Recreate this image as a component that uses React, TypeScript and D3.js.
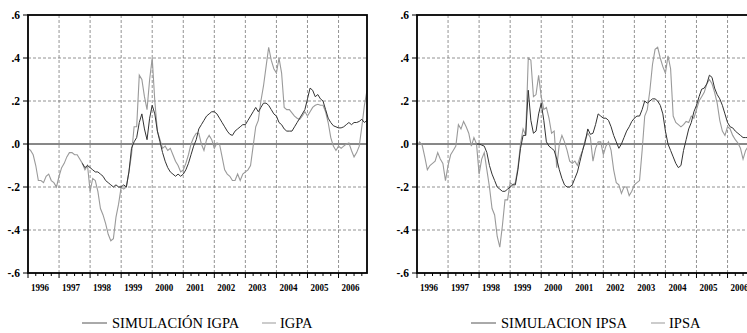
import React from "react";
import * as d3 from "d3";

// monthly observations, Jan 1996 .. Dec 2006
const YEARS = ["1996", "1997", "1998", "1999", "2000", "2001", "2002", "2003", "2004", "2005", "2006"];
const Y_TICKS = [0.6, 0.4, 0.2, 0.0, -0.2, -0.4, -0.6];

const IGPA = [
  -0.02, -0.03, -0.05, -0.1, -0.17, -0.17, -0.18, -0.15, -0.14, -0.17, -0.18, -0.2,
  -0.15, -0.11, -0.09, -0.06, -0.04, -0.04, -0.05, -0.05, -0.07, -0.09, -0.12, -0.1,
  -0.22, -0.16, -0.17, -0.22, -0.3, -0.33, -0.37, -0.42, -0.45, -0.44, -0.34, -0.28,
  -0.2, -0.21, -0.2, -0.13, -0.05, 0.08, 0.08, 0.32, 0.3, 0.22, 0.16, 0.3,
  0.4, 0.2, 0.06, 0.02, -0.02, -0.01, -0.03, -0.02, -0.05, -0.08, -0.1, -0.13,
  -0.12, -0.09, -0.05, 0.0, 0.03, 0.05, 0.05, 0.0, -0.03, 0.02, 0.04, 0.02,
  -0.02, 0.005, 0.0, -0.06, -0.12, -0.14, -0.15, -0.17, -0.17, -0.14, -0.17, -0.14,
  -0.13, -0.12, -0.1, -0.01, 0.08, 0.11, 0.2, 0.27, 0.36, 0.45, 0.39, 0.35,
  0.33, 0.4, 0.33, 0.17, 0.16, 0.16, 0.145, 0.13, 0.12, 0.115, 0.13, 0.15,
  0.13, 0.15, 0.17, 0.18, 0.185, 0.18, 0.18, 0.15, 0.1, 0.03, -0.01, -0.03,
  -0.01, -0.02, -0.01, 0.0, 0.005, -0.03, -0.06, -0.04, -0.01, 0.08, 0.18, 0.25,
];

// simulation starts in Oct 1997
const SIM_IGPA_START = 21;
const SIM_IGPA = [
  -0.09, -0.11, -0.1,
  -0.11, -0.12, -0.13, -0.13, -0.14, -0.15, -0.17, -0.18, -0.19, -0.2, -0.19, -0.2,
  -0.2, -0.19, -0.2, -0.13, -0.02, 0.01, 0.03, 0.1, 0.14, 0.07, 0.02, 0.12,
  0.18, 0.14, 0.06, 0.01, -0.04, -0.08, -0.11, -0.13, -0.14, -0.15, -0.14, -0.15,
  -0.14, -0.12, -0.09, -0.05, -0.01, 0.02, 0.07, 0.09, 0.11, 0.13, 0.14, 0.15,
  0.15, 0.14, 0.12, 0.1, 0.08, 0.06, 0.045, 0.04, 0.06, 0.07, 0.08, 0.09,
  0.09, 0.11, 0.13, 0.15, 0.17, 0.15, 0.17, 0.19, 0.19, 0.18, 0.16, 0.14,
  0.13, 0.1, 0.09, 0.07, 0.06, 0.06, 0.06, 0.08, 0.1, 0.12, 0.14, 0.16,
  0.21, 0.26, 0.25, 0.22, 0.23, 0.21, 0.2, 0.16, 0.12, 0.1, 0.085, 0.08,
  0.075, 0.075, 0.08, 0.09, 0.1, 0.09, 0.1, 0.1, 0.105, 0.115, 0.1, 0.11,
];

const IPSA = [
  -0.01, 0.01, -0.005, -0.06, -0.12, -0.1, -0.09, -0.08, -0.04, -0.07, -0.09, -0.17,
  -0.1, -0.05, -0.03, -0.01, 0.09, 0.07, 0.105, 0.08, 0.05, -0.01, 0.03, 0.0,
  -0.14, -0.07, -0.04, -0.12, -0.2, -0.3, -0.33, -0.43, -0.48, -0.38, -0.26, -0.26,
  -0.18, -0.19, -0.18, -0.11, 0.0, 0.07, 0.04, 0.4, 0.39, 0.22, 0.23, 0.32,
  0.22, 0.16, 0.17, 0.12, 0.05, 0.06, -0.11, 0.0, 0.04, 0.01, -0.03, -0.08,
  -0.09, -0.08, -0.1, -0.06, -0.03, 0.02, 0.05, 0.03, -0.08, -0.02, 0.01, 0.01,
  -0.05, -0.01, 0.01, -0.03, -0.12, -0.18, -0.19, -0.23, -0.2, -0.2, -0.24, -0.22,
  -0.19, -0.18, -0.17, -0.03, 0.13, 0.16, 0.25, 0.37, 0.44, 0.45, 0.4, 0.36,
  0.33, 0.41, 0.35, 0.13, 0.1, 0.09, 0.08, 0.09, 0.105, 0.1, 0.13, 0.12,
  0.16, 0.2, 0.22, 0.24, 0.28, 0.3, 0.28, 0.24, 0.19, 0.11, 0.06, 0.04,
  0.08, 0.07, 0.04, 0.02, 0.005, -0.02, -0.07, -0.03, -0.01, -0.05, -0.1, -0.03,
];

// simulation starts in Dec 1997
const SIM_IPSA_START = 23;
const SIM_IPSA = [
  0.0,
  0.0, -0.005, -0.01, -0.04, -0.1, -0.14, -0.17, -0.2, -0.21, -0.22, -0.22, -0.21,
  -0.2, -0.19, -0.19, -0.12, -0.02, 0.04, 0.04, 0.25, 0.11, 0.05, 0.06, 0.14,
  0.19, 0.11, 0.01, -0.01, -0.02, -0.03, -0.07, -0.12, -0.16, -0.19, -0.2, -0.2,
  -0.19, -0.16, -0.13, -0.08, -0.03, 0.01, 0.07, 0.045, 0.05, 0.09, 0.14, 0.13,
  0.12, 0.12, 0.11, 0.08, 0.04, 0.01, -0.02, 0.0, 0.03, 0.06, 0.08, 0.105,
  0.12, 0.13, 0.13, 0.16, 0.2, 0.19, 0.2, 0.21, 0.21, 0.2, 0.18, 0.14,
  0.06, 0.0, -0.03, -0.06, -0.09, -0.11, -0.1, -0.03, 0.02, 0.07, 0.1, 0.15,
  0.18, 0.22, 0.255, 0.26, 0.28, 0.32, 0.31, 0.26, 0.23, 0.21, 0.18, 0.14,
  0.1, 0.08, 0.075, 0.06, 0.05, 0.04, 0.03, 0.03, 0.03, 0.025, 0.03, 0.03,
];

const N = IGPA.length;
const TOP = 15;
const BOTTOM = 273;
const SERIF = { fontFamily: '"Liberation Serif", "DejaVu Serif", "Times New Roman", serif' };

function toSeries(values: number[], start: number) {
  const out: (number | null)[] = new Array(N).fill(null);
  values.forEach((v, k) => (out[start + k] = v));
  return out;
}

type PanelProps = {
  x0: number;
  x1: number;
  actual: number[];
  sim: (number | null)[];
  simLabel: string;
  actualLabel: string;
};

function Panel({ x0, x1, actual, sim, simLabel, actualLabel }: PanelProps) {
  const x = d3.scaleLinear().domain([0, N - 1]).range([x0, x1]);
  const y = d3.scaleLinear().domain([-0.6, 0.6]).range([BOTTOM, TOP]);

  const line = d3
    .line<number | null>()
    .defined((d) => d !== null)
    .x((_, i) => x(i))
    .y((d) => y(d as number));

  const fmt = (v: number) => {
    const s = Math.abs(v).toFixed(1).replace(/^0/, "");
    return v < 0 ? "-" + s : s;
  };

  const yearIdx = YEARS.map((_, k) => k * 12);
  const quarterIdx = d3.range(0, N, 3);

  return (
    <g>
      {/* grid */}
      {Y_TICKS.filter((v) => Math.abs(v) > 0.01 && Math.abs(v) < 0.59).map((v) => (
        <line key={"h" + v} x1={x0} x2={x1} y1={y(v)} y2={y(v)} stroke="#777" strokeWidth={0.8} strokeDasharray="3,2" />
      ))}
      {yearIdx.slice(1).map((i) => (
        <line key={"v" + i} x1={x(i)} x2={x(i)} y1={TOP} y2={BOTTOM} stroke="#777" strokeWidth={0.8} strokeDasharray="3,2" />
      ))}
      <line x1={x0} x2={x1} y1={y(0)} y2={y(0)} stroke="#111" strokeWidth={1} />

      {/* series */}
      <path d={line(actual) || ""} fill="none" stroke="#9a9a9a" strokeWidth={1.1} />
      <path d={line(sim) || ""} fill="none" stroke="#333" strokeWidth={1} />

      {/* frame */}
      <rect x={x0} y={TOP} width={x1 - x0} height={BOTTOM - TOP} fill="none" stroke="#000" strokeWidth={1.8} />

      {/* y axis */}
      {Y_TICKS.map((v) => (
        <g key={"yt" + v}>
          <line x1={x0 - 5} x2={x0} y1={y(v)} y2={y(v)} stroke="#000" strokeWidth={1} />
          <text x={x0 - 8} y={y(v) + 4} textAnchor="end" style={SERIF} fontWeight="bold" fontSize={11.5}>
            {fmt(v)}
          </text>
        </g>
      ))}

      {/* x axis */}
      {quarterIdx.map((i) => (
        <line key={"xt" + i} x1={x(i)} x2={x(i)} y1={BOTTOM} y2={BOTTOM + (i % 12 === 0 ? 5 : 3)} stroke="#000" strokeWidth={1} />
      ))}
      {YEARS.map((yr, k) => (
        <text
          key={yr}
          x={x(k * 12) + 3}
          y={BOTTOM + 18}
          style={SERIF}
          fontWeight="bold"
          fontSize={11}
          textLength={18}
          lengthAdjust="spacingAndGlyphs"
        >
          {yr}
        </text>
      ))}

      {/* legend */}
      <line x1={x0 + 54} x2={x0 + 79} y1={323} y2={323} stroke="#555" strokeWidth={1} />
      <text x={x0 + 84} y={328} style={SERIF} fontSize={14.5}>
        {simLabel}
      </text>
      <line x1={x0 + 234} x2={x0 + 248} y1={323} y2={323} stroke="#999" strokeWidth={1} />
      <text x={x0 + 252} y={328} style={SERIF} fontSize={14.5}>
        {actualLabel}
      </text>
    </g>
  );
}

export default function App() {
  return (
    <svg
      width={747}
      height={333}
      style={{ position: "absolute", left: 0, top: 0, background: "#fff" }}
    >
      <rect width={747} height={333} fill="#fff" />
      <Panel
        x0={28}
        x1={367}
        actual={IGPA}
        sim={toSeries(SIM_IGPA, SIM_IGPA_START)}
        simLabel="SIMULACIÓN IGPA"
        actualLabel="IGPA"
      />
      <Panel
        x0={417}
        x1={756}
        actual={IPSA}
        sim={toSeries(SIM_IPSA, SIM_IPSA_START)}
        simLabel="SIMULACION IPSA"
        actualLabel="IPSA"
      />
    </svg>
  );
}
